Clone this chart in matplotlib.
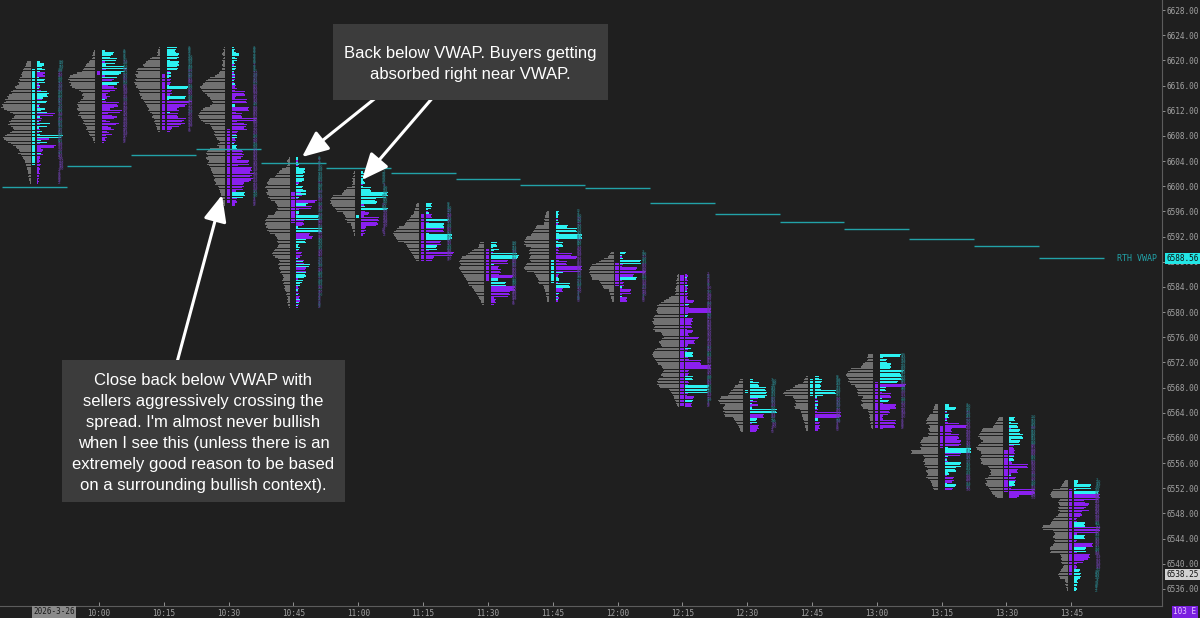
import matplotlib
matplotlib.use("Agg")
import matplotlib.pyplot as plt
from matplotlib.patches import Rectangle
import numpy as np

# colours
BG = "#1f1f1f"
GREY = "#717171"
CYAN = "#2cf2f2"
PURPLE = "#8a1ff0"
TEAL = "#22a2a8"
TXT = "#a3a3a3"

TICK = 0.25        # price step of one footprint row
VOL_UNIT = 25      # contracts per unit in the volume lists

times = ["9:45", "10:00", "10:15", "10:30", "10:45", "11:00", "11:15", "11:30", "11:45",
         "12:00", "12:15", "12:30", "12:45", "13:00", "13:15", "13:30", "13:45"]

# top row price of every 15 min profile, candle open / close
highs = [6619.75, 6621.5, 6622.0, 6622.0, 6604.5, 6602.25, 6597.25, 6591.0, 6596.0,
         6589.5, 6586.0, 6569.25, 6569.75, 6573.25, 6565.25, 6563.25, 6553.25]
opens = [6603.5, 6618.25, 6617.75, 6609.0, 6599.0, 6595.0, 6595.5, 6590.0, 6584.75,
         6587.75, 6585.75, 6567.25, 6566.75, 6568.75, 6561.75, 6558.0, 6551.75]
closes = [6618.5, 6617.75, 6609.0, 6597.5, 6594.25, 6595.25, 6588.25, 6585.0, 6588.25,
          6584.25, 6565.25, 6567.5, 6569.25, 6561.75, 6558.5, 6551.5, 6538.25]
# RTH VWAP at the end of each bar
vwap = [6599.85, 6603.2, 6604.95, 6605.9, 6603.7, 6602.9, 6602.1, 6601.1, 6600.2,
        6599.7, 6597.3, 6595.6, 6594.3, 6593.2, 6591.6, 6590.5, 6588.56]

# volume per row (top to bottom) and delta per row (+ buyers, - sellers)
vol_0945 = [4,5,5,6,7,8, 8,9,10,9,11,12,11, 13,12,14,16,15,18,20,19, 22,24,23,26,25,27,29,28,30,27,
            24,21,18,16,17,19, 20,22,21,23,20,18,17,19, 21,24,26,28,27,25,23,20,
            18,15,14,12,11,13,10,9, 8,7,6,6,5,5,4,4,3,3, 3,2,3,2,2,1,1]
dlt_0945 = [3, 7,7, 5,5, 8,3, -8,-6,-8, 2, 8,7,8, -2, 3, -3,2,-4, 10,12,10,11, 6,-5, 10,9, -3,2, -3,8,
            4, 10, -18,-16, 3,-5,-4, 2, 13, -3, 10, 2, -3,5,-2, 3, 26,24, -12, 4, 10, -3, -19,-17, -4,
            -6,-5,4,-6,-3, -3,-2,-3,-2,-4,-3,-2,-3,-2,-2,-3,-2,-2, -2,-1,-2,-1]
vol_1000 = [1,2,2,3,2,3, 5,6,8,9,10,11,12,13, 18,22,25,26,27,25,26,24,25,23,20,
            16,14,12,13,11,12,14,15, 17,18,17,16,18,17,15,16,17,14,13,
            12,11,12,10,9,8,9,7,6,6,5, 3,2,2,1]
dlt_1000 = [3, 12,11, 9,8, 15,14,-3,13, 4, 22,25,-4,23, 19,17,-3,15, -12,-10,17,15,-6,-12,
            -15,-13,-8,-6,-4,-8,-5, 3, -4, -17,-15,-16,-12,
            -8,-20,-18,-6,-10,-15,-12,-4,-8,-17,-14,-6,-9,-12,-5,-7,-10,-4,-5,-3,-4, -2]
vol_1015 = [1,2,2,3,2,3, 8,10,12,14,15,17,16, 22,23,24,22,25,24,23,25,24,26,25,23,24,22,21,20, 21,
            20,18,19,17,16,15,14,13,12,11,12,10, 8,7,8,6,5,6,5,4,4,3,3,2]
dlt_1015 = [10, 9,8,9, 12,11,12,10, 3, 12,11,12,10, 11,10,-3, 4,-2,4, 2, -4,-3,-4,-3, 2, 21,20,
            -5,-4,-5,-3, 19,18, 2, -25,-22,-20,-18, -12,-10,-12, 3, -11,-10,-11,
            -19,-17,-15,-18,-14,-12, -5,-4,-3]
vol_1030 = [1,2,1,2,3,2,1,2,3,2,2,3,2,3,3, 5,6,8,10, 15,17,19,20,22,23,25,24,23,22,20,
            18,17,15,14,13,12,13,15, 20,22,24,25,26,27,26,25,24,22,20,
            15,14,13,12,11,10,11,10,9,8, 6,5,7,8,6, 15,17,18,19,18,17,19,18,16,17,18,16,15,14,
            14,13,12,12,11,10,11,10,9,10, 7,6,6,5,5,4,4,3,3,3,2,2,1]
dlt_1030 = [2,3,2,4, 7,7, 3, 5,5, 2,3,-2, 4,4,3, 2,-2,3, -3,3,-3,2,-2,3, -4,-3,-5,-3, -13,-12,-13,
            -4,-3, -15,-14,-15, 3,3, -17,-16,-17, -4, -10,-9,-10, -25,-24, -5, -12,-15,-14,-12,-15,
            -6,-5,-4, 5,5, -3,-4,-3,2, 5,4,5, -10,-11,-10,-12,-11,-9, -5, -17,-16,-17, -6,
            -20,-19,-20,-18, -22,-20,-18,-21,-19,-17, -12,-11,-12,-10,-11, -4, 13,12,13,11,
            -5,-4,-5,-3,-3]
vol_1045 = [1,2,3,2,2,3,4, 8,10,11,13,14,15, 20,21,22,23,22,24,25,23,22,24,23,21,22,20,19,
            15,14,13,12,13,12,14,15,16, 22,23,24,25,24,25,23,24,22,23,21,20,
            15,14,13,12,13,12,11,12,13, 15,16,17,18,17,15, 12,11,10,11,12,10,11,10,9,10,
            8,7,6,7,8,6,7,6,5,6,5, 4,3,4,3,2,3,2,3,2,2,1]
dlt_1045 = [2,2,-2,2, 3,-2,3, 9,8,9,7, 8,7,8,8,6, -3,2, 7,6,7, 10,-5,10,-6, 3,-2,
            -21,-19,12,10,-16,-15, -3, 3,3, -2, 23,22,23, -8,-7,-8,-6, 2, 26,25,26,
            -14,-13,-17,-16, 10,9,10, 3,2,4,3,-2, -6,-5,-6,-4, 2, -8,7,-8, 14,13,-10,-9,-10,
            10,9,10,8, -2, 7,6,4,4, -2,-3,2,-2,-3,2, -4,-3,4,-4,3,-3,2,-2]
vol_1100 = [1,2,1,2,3,2,3,2,3,3, 8,9,11,12,13, 22,23,24,25,24,25,23,22,20,19,18,
            12,11,10,9,10,8,8, 4,4,3,3,2,2,1,1]
dlt_1100 = [2,3,2,4,3,2,3,4, -2,2, 10,9,10, 27,26,27,25, 15,14,16,15, -3,4, 27,26,-4,
            -8,-7,-3, -18,-17,-18,-16,-17,-15, -5,-4,-5,-3,-4,-2]
vol_1115 = [2,3,3,4,4,5,5,6, 8,9,10,12,13,14,15, 20,22,23,25,26,25,24,23,22,21,
            15,13,12,11,10,9,8,7,6,5,4,3]
dlt_1115 = [6,5,6,5, 2,-2,3, -6,-5,-6, 23,22, -3, 18,17,18, -18,-17,-18, 3, 26,25,26,24,
            -15,-14,-15, 11,10,11, -3, -28,-27,-26, -8,-7,-6]
vol_1130 = [4,5,5,6, 10,12,14,16,18, 22,23,24,25,24,23,24,25,24,23,22,21,
            20,19,18,17,16,16,15, 12,11,10,9,8,7,6,5,4,3,3,2]
dlt_1130 = [6,5,6, 2, 8, 3,-2, 26,28,27,26, -17,-16,-17, 3,-8,-7, -10,-9,-10,-8, -22,-21,
            7,7, 15,14,15, -24,-23,-24, -19,-18,-19,-17, -3, -5,-4,-5,-3]
vol_1145 = [2,3,3,4,4,5,4,5,5, 12,13,14,15,16,17,18, 22,23,24,25,24,25,23,
            18,19,20,19,20,18,19,20,19,18, 22,23,24,25,24,22, 15,14,13,12,11,10,11,10,
            6,5,5,4,4,3,3,3,2,2,2]
dlt_1145 = [3,2,3,2, 2,-2,2,3,-2, 12,11, 21,20,21, 3, 26,25,26, -3,2, 7,6,7, -3,-2,-3,-2,
            -16,-15,-21,-20, -3, -11,-10,-11, -26,-25,-26,-24, 7, -3,-2,2, 3,3, -2, 14,13,14,
            -7,-6,-7, 3,-2,2,-3,2,-2]
vol_1200 = [3,4,5,6, 10,13,15,18, 22,23,24,25,24,25,24,23,22,22, 15,14,13,12,11,10,
            5,5,4,4,3,3,2,2]
dlt_1200 = [6,5, 2,-2,3, 21,20,21, -3,-2, -17,-16,-26,-25, -14,-13,17,16, -2, -4,-3,-4,
            2,-2, -11,-10,-11, -2,2, -7,-6,-7]
vol_1215 = [1,2,1,2,3,2,3,2,3,4,3,4,3,4, 8,10,13,15,18,20, 22,21,22,23,22,21,
            24,25,26,25,27,26,25,24,25,26,24, 18,17,16,15,17,18,20,19,18,17,
            22,24,25,26,27,26,25,24,23,22,21, 18,17,16,15,16,17,18,16, 20,21,22,21,22,20,19,
            10,9,8,7,6,5,5,4,3,3,2,1]
dlt_1215 = [-2,-3,2,-2,-3,-2,-2,3, -2,-3,-2,2,-3,-2,-3,-2,-3, -9,-8, 4, -3,-4, -26,-25,-26, -3,
            3,2, -8,-7,-8,-6, -7,-6,-7, -2, -8,-7, -3,-4, -14,-13, -10,-9,-10, -3,-2, 6, -3,-2,
            8,7,8, -3,-4, -16,-15,-16, -26,-25,-26, -4,-3,-4,-3, 8,7,8, -3,-4,-3,
            24,23,24,22,23, -3,-2, -9,-8, 8,7, -7,-6,-7]
vol_1230 = [3,4,4,5, 8,9,10,12,13,14,15, 22,23,25,24,23, 18,19,20,19,20,18,19,18,
            10,9,8,7,6,5,4,3,3,2]
dlt_1230 = [3,3, 9,8,9, 16,15,16, 17,16,17,15, -8,3,-7, 2, -8, -2,2, 27,26,27, -14,-13,-14,
            7,6,7, -2, -9,-8,-9,-7,-6]
vol_1245 = [2,3,4,4,5, 10,13,15,18, 22,24,25,23, 15,14,13,12,13,12,14,13,
            8,7,7,6,6,5,5,4,4,3,3,3,2,2]
dlt_1245 = [4,4,7,7, 6,5,6,5,6, 21,20,21, 8, 2,-2, -3,3,-3,3, -2,2,-3,-2, -26,-25,-26,-24,
            3,3, -5,-4,-5,-4,-5,-3]
vol_1300 = [5,5,6,5,6, 8,10,11,12, 22,23,25,26,27,26,25,24,25,23,22, 18,17,16,15,16,15,15,
            10,11,12,11,10,12,11,10, 5,5,4,4,3,4,3,3,2,3,2,2,1]
dlt_1300 = [21,20, 3, 7,6,7, 11,10,11,10, 24,23,20,21, 22,21,22, 18,17, -26,-25, 6,5,6, -2,
            -11,-10,-11, 2, 9,8, -3, -16,-15,-16, -10,-9,-10,-8, -3,-2,-3,
            -16,-15,-16,-14,-15, -3]
vol_1315 = [3,4,4,5,5,5, 8,9,10,11,12,11,12, 9,8,10,9,8,10,9,10, 15,16,17,18,17,16,18,17,
            27,26,27, 15,14,13,14,15,13,14,13, 11,10,12,11,10,11,12,10, 8,7,6,6,5,5,4]
dlt_1315 = [4,4, 11,10, 2,-2, 4,3,4, -2,2,-3, -14,-22,-21, -7,-6,-7,-6, -14,-13,-14,-12,
            -16,-15,-16,-14, 3, 26,25,26, -16,-15, 3,-2,2,-3, 16,15,16, 11,10,11, 3,4, -2,
            -9,-8,-9,-7, 2, 11,10, -8,-7]
vol_1330 = [4,5,6,7,8,9,10, 20,21,22,23,24,25,23,22, 20,22,24,25,27,26,24,22,
            22,21,22,23,22,21,22,20, 15,14,13,12,13,12,14,15, 18,17,16,18,17,15,14,13,12,11,10,8,6]
dlt_1330 = [6,5,6, 2, 9,8,9, -2, 11,10,11, 14,13,14, 2, 11,10,11, -5,-4,-5, -6,-5,-6,-5,
            5,4,5, -2,-3, -19,-18,-19, -9,-8,-9, -2,2, -7,-6,-7, 6,5,6, -3,-2,
            -26,-25,-26,-24,-10,-8]
vol_1345 = [3,4,5,6,7,8, 15,16,17,18,17,16, 8,9,10,9,8,10,9,10,8,9,10, 12,14,15,16,17,18,
            25,26,25, 15,14,13,14,15,13,14,13,14,15, 17,18,18,17,18, 8,7,6,7,6,7,6,
            4,5,6,7,8,9,10,9,8, 3,3,2,3,2,2,1,1]
dlt_1345 = [4,4,3, 17,16,17, 2, 25,24, -26,-25,-26,-24, -10,-11,-15,-14,-12,-10,-15,
            -8,-7,-8,-6, -3,-2,-3, 11,10,11, -26,-25,-26,-24, -3, 11,10,11, -3,-2,
            -19,-18,-19,12,11,12, -3, -16,-15,-16,-14, -10,-9, -3,-2,-3,-2, 6,5, 7,6,7,6,
            4,3,4,3, 3,2,3,2]

vols = [vol_0945, vol_1000, vol_1015, vol_1030, vol_1045, vol_1100, vol_1115, vol_1130, vol_1145,
        vol_1200, vol_1215, vol_1230, vol_1245, vol_1300, vol_1315, vol_1330, vol_1345]
deltas = [dlt_0945, dlt_1000, dlt_1015, dlt_1030, dlt_1045, dlt_1100, dlt_1115, dlt_1130, dlt_1145,
          dlt_1200, dlt_1215, dlt_1230, dlt_1245, dlt_1300, dlt_1315, dlt_1330, dlt_1345]

W, H = 1200, 618
fig = plt.figure(figsize=(12, 6.18), dpi=100, facecolor=BG)
ax = fig.add_axes([0, 12 / H, 1162 / W, 606 / H], facecolor=BG)

PX = 1 / 64.8     # x data units per pixel (one 15 min slot = 64.8 px)
ROW_H = 0.2

for i in range(len(times)):
    g = np.array(vols[i], dtype=float)
    d = np.array(deltas[i], dtype=float)
    n = len(g)
    if len(d) < n:
        d = np.concatenate([d, np.zeros(n - len(d))])
    d = d[:n]
    prices = highs[i] - TICK * np.arange(n)

    # volume profile (left)
    ax.barh(prices, g * PX, left=i - 3.7 * PX - g * PX, height=ROW_H, color=GREY, linewidth=0)
    # delta per price (right)
    cols = [CYAN if v > 0 else PURPLE for v in d]
    ax.barh(prices, np.abs(d) * PX, left=i + 2.9 * PX, height=ROW_H, color=cols, linewidth=0)
    # candle body column
    lo, hi = min(opens[i], closes[i]), max(opens[i], closes[i])
    body = np.arange(lo, hi + TICK / 2, TICK)
    bcol = CYAN if closes[i] > opens[i] else PURPLE
    ax.barh(body, 3.3 * PX, left=i - 2.1 * PX, height=ROW_H, color=bcol, linewidth=0)
    # tiny volume numbers
    for p, v, dv in zip(prices, g, d):
        ax.text(i + 24 * PX, p, str(int(v * VOL_UNIT)), fontsize=2.2, va="center", ha="left",
                color="#2a7f86" if dv > 0 else "#6a3fa6", family="DejaVu Sans Mono")

# VWAP steps
xs = np.arange(len(times))
ax.hlines(vwap, xs - 0.5, xs + 0.5, colors=TEAL, linewidth=1.0)
ax.text(17.33, vwap[-1], "RTH VWAP", ha="right", va="center", color=TEAL, fontsize=6,
        family="DejaVu Sans Mono")

ax.set_xlim(-0.528, 17.40)
ax.set_ylim(6533.29, 6629.59)

ax.yaxis.tick_right()
yt = np.arange(6536, 6629, 4)
ax.set_yticks(yt)
ax.set_yticklabels([f"{v:.2f}" for v in yt], family="DejaVu Sans Mono")
ax.set_xticks(xs[1:])
ax.set_xticklabels(times[1:], family="DejaVu Sans Mono")
ax.tick_params(axis="y", colors=TXT, labelsize=5.6, length=2, width=0.6, pad=1)
ax.tick_params(axis="x", colors=TXT, labelsize=5.5, length=3, width=0.6, pad=2, direction="in")
for s in ["top", "left"]:
    ax.spines[s].set_visible(False)
for s in ["right", "bottom"]:
    ax.spines[s].set_color("#5c5c5c")
    ax.spines[s].set_linewidth(0.8)

ytr = ax.get_yaxis_transform()
ax.text(1.0035, vwap[-1], f"{vwap[-1]:.2f}", transform=ytr, ha="left", va="center", fontsize=5.6,
        color="#101010", family="DejaVu Sans Mono",
        bbox=dict(boxstyle="square,pad=0.15", fc="#22e6e6", ec="none"))
ax.text(1.0035, closes[-1], f"{closes[-1]:.2f}", transform=ytr, ha="left", va="center",
        fontsize=5.6, color="#101010", family="DejaVu Sans Mono",
        bbox=dict(boxstyle="square,pad=0.15", fc="#d2d2d2", ec="none"))
fig.text(54 / W, 1 - 612 / H, "2026-3-26", ha="center", va="center", fontsize=5.5,
         color="#1a1a1a", family="DejaVu Sans Mono",
         bbox=dict(boxstyle="square,pad=0.2", fc="#8a8a8a", ec="none"))
fig.text(1185 / W, 1 - 612 / H, "103 E", ha="center", va="center", fontsize=5.5,
         color="#e8c8ff", family="DejaVu Sans Mono",
         bbox=dict(boxstyle="square,pad=0.25", fc="#7a1fe0", ec="none"))


def note_box(x0, y0, x1, y1, text):
    fig.patches.append(Rectangle((x0 / W, 1 - y1 / H), (x1 - x0) / W, (y1 - y0) / H,
                                 transform=fig.transFigure, fc="#3c3c3c", ec="none", zorder=5))
    fig.text((x0 + x1) / 2 / W, 1 - (y0 + y1 + 4) / 2 / H, text, ha="center", va="center",
             fontsize=12, color="white", family="Liberation Sans", linespacing=1.5, zorder=6)


note_box(333, 24, 608, 100, "Back below VWAP. Buyers getting\nabsorbed right near VWAP.")
note_box(62, 360, 345, 502, "Close back below VWAP with\nsellers aggressively crossing the\n"
         "spread. I'm almost never bullish\nwhen I see this (unless there is an\n"
         "extremely good reason to be based\non a surrounding bullish context).")

arrows = [((388, 88), (302, 157)), ((441, 88), (362, 180)), ((176, 366), (222, 195))]
for (sx, sy), (ex, ey) in arrows:
    ax.annotate("", xy=(ex, H - ey), xytext=(sx, H - sy), xycoords="figure pixels",
                textcoords="figure pixels",
                arrowprops=dict(arrowstyle="-|>,head_length=0.8,head_width=0.35", color="white",
                                lw=2.2, mutation_scale=20, shrinkA=0, shrinkB=0), zorder=7)

fig.savefig("out.png", dpi=100, facecolor=BG)
